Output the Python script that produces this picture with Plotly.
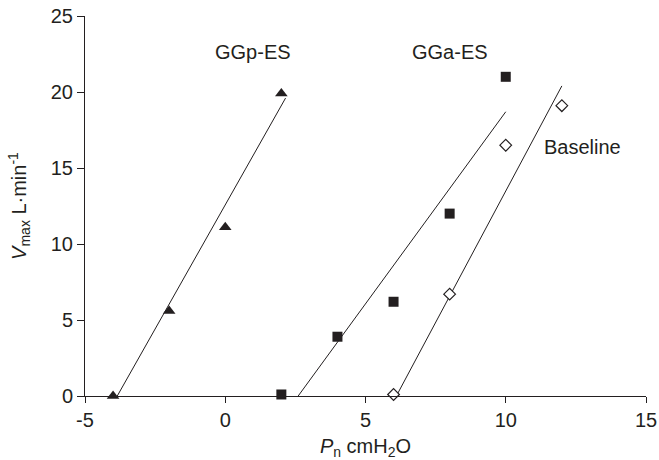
import plotly.graph_objects as go

# Data
ggp_x = [-4, -2, 0, 2]
ggp_y = [0.0, 5.6, 11.1, 19.9]
gga_x = [2, 4, 6, 8, 10]
gga_y = [0.1, 3.9, 6.2, 12.0, 21.0]
base_x = [6, 8, 10, 12]
base_y = [0.1, 6.7, 16.5, 19.1]

# Fitted line end points
ggp_fit_x = [-3.85, 2.15]
ggp_fit_y = [0.0, 19.6]
gga_fit_x = [2.6, 10.0]
gga_fit_y = [0.0, 18.7]
base_fit_x = [6.1, 12.0]
base_fit_y = [0.0, 20.4]

labels = ["GGp-ES", "GGa-ES", "Baseline"]
label_x = [1.0, 8.0, 12.75]
label_y = [22.6, 22.6, 16.4]

x_ticks = [-5, 0, 5, 10, 15]
x_ticktext = ["-5", "0", "5", "10", "15"]
y_ticks = [0, 5, 10, 15, 20, 25]

FONT = "Liberation Sans, Arial, sans-serif"
INK = "#231f20"
FS = 20

fig = go.Figure()
for fx, fy in [(ggp_fit_x, ggp_fit_y), (gga_fit_x, gga_fit_y), (base_fit_x, base_fit_y)]:
    fig.add_trace(go.Scatter(x=fx, y=fy, mode="lines",
                             line=dict(color=INK, width=1),
                             showlegend=False, hoverinfo="skip", cliponaxis=False))

fig.add_trace(go.Scatter(x=ggp_x, y=ggp_y, mode="markers", name="GGp-ES",
                         marker=dict(symbol="triangle-up", size=11, color=INK),
                         showlegend=False, cliponaxis=False))
fig.add_trace(go.Scatter(x=gga_x, y=gga_y, mode="markers", name="GGa-ES",
                         marker=dict(symbol="square", size=10, color=INK),
                         showlegend=False, cliponaxis=False))
fig.add_trace(go.Scatter(x=base_x, y=base_y, mode="markers", name="Baseline",
                         marker=dict(symbol="diamond", size=9, color="white",
                                     line=dict(color=INK, width=1.2)),
                         showlegend=False, cliponaxis=False))

for t, lx, ly in zip(labels, label_x, label_y):
    fig.add_annotation(x=lx, y=ly, text=t, showarrow=False,
                       font=dict(family=FONT, size=FS, color=INK))

fig.update_layout(
    template="none",
    width=659, height=460,
    margin=dict(l=85, r=13, t=16, b=64, autoexpand=False),
    plot_bgcolor="white", paper_bgcolor="white",
    font=dict(family=FONT, size=FS, color=INK),
    xaxis=dict(range=[-5, 15], tickvals=x_ticks, ticktext=x_ticktext,
               showgrid=False, zeroline=False, automargin=False,
               showline=True, linecolor=INK, linewidth=1,
               ticks="outside", ticklen=6, tickcolor=INK, tickwidth=1,
               tickfont=dict(size=FS),
               title=dict(text="<i>P</i><sub>n</sub> cmH<sub>2</sub>O",
                          font=dict(size=FS), standoff=9)),
    yaxis=dict(range=[0, 25], tickvals=y_ticks, showgrid=False, zeroline=False,
               automargin=False,
               showline=True, linecolor=INK, linewidth=1,
               ticks="outside", ticklen=7, tickcolor=INK, tickwidth=1,
               tickfont=dict(size=FS),
               title=dict(text="<i>V</i><sub>max</sub> L·min<sup>-1</sup>",
                          font=dict(size=FS), standoff=18)),
)

fig.write_html("out.html",
               config={"displayModeBar": False},
               post_script="document.body.style.margin='0';document.body.style.overflow='hidden';")
